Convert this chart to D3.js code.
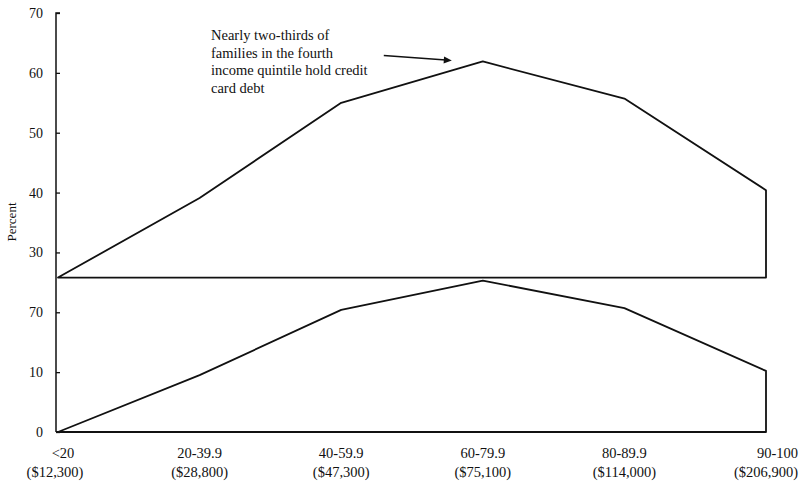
<!DOCTYPE html>
<html>
<head>
<meta charset="utf-8">
<script src="https://cdn.jsdelivr.net/npm/d3@7"></script>
<style>
  html, body { margin: 0; padding: 0; background: #fff; }
  svg { display: block; }
  text { font-family: "Liberation Serif", "DejaVu Serif", serif; fill: #111; }
</style>
</head>
<body>
<svg id="chart" width="800" height="483"></svg>
<script>
// ---- data ----
const categories = ["<20", "20-39.9", "40-59.9", "60-79.9", "80-89.9", "90-100"];
const meanIncome = ["($12,300)", "($28,800)", "($47,300)", "($75,100)", "($114,000)", "($206,900)"];
const upperValues = [25.8, 39.1, 55.0, 61.9, 55.7, 40.4];
const upperBase = 25.8;
const lowerValues = [0, 9.5, 20.4, 25.3, 20.7, 10.2];
const lowerBase = 0;
const yTicks = [0, 10, 20, 30, 40, 50, 60, 70];
const yTickLabels = ["0", "10", "70", "30", "40", "50", "60", "70"];
const yLabel = "Percent";
const noteLines = ["Nearly two-thirds of", "families in the fourth", "income quintile hold credit", "card debt"];

// ---- layout ----
const svg = d3.select("#chart");
const x = d3.scalePoint().domain(categories).range([58, 766]);
const y = d3.scaleLinear().domain([0, 70]).range([432, 13]);
const axisX0 = 56;
const W = 800;

const ink = "#111";

// y axis
const yAxis = d3.axisRight(y).tickValues(yTicks).tickSize(4).tickFormat("");
const gy = svg.append("g").attr("transform", `translate(${axisX0},0)`).call(yAxis);
gy.select(".domain").attr("stroke", ink).attr("stroke-width", 1.5).attr("d", `M4,${y(70)}H0V${y(0)}`);
gy.selectAll(".tick line").attr("stroke", ink).attr("stroke-width", 1.3);

svg.append("g").selectAll("text").data(yTicks).join("text")
  .attr("x", 43).attr("y", d => y(d) + 5)
  .attr("text-anchor", "end").style("font-size", "14px")
  .text((d, i) => yTickLabels[i]);

// y label
svg.append("text")
  .attr("transform", `translate(16,222) rotate(-90)`)
  .attr("text-anchor", "middle").style("font-size", "13px")
  .text(yLabel);

// x axis
svg.append("line")
  .attr("x1", axisX0).attr("x2", x(categories[categories.length - 1]))
  .attr("y1", y(0)).attr("y2", y(0))
  .attr("stroke", ink).attr("stroke-width", 1.8);

const last = categories.length - 1;
const xl = svg.append("g").selectAll("g").data(categories).join("g")
  .attr("transform", d => `translate(${x(d)},0)`);
function placeLabel(sel, row, dFirst) {
  sel.append("text")
    .attr("y", row === 0 ? 458 : 477)
    .attr("x", (d, i) => i === last ? (W - 2) - x(d) : (i === 0 ? dFirst : 0))
    .attr("text-anchor", (d, i) => i === last ? "end" : "middle")
    .style("font-size", "14.5px")
    .text((d, i) => row === 0 ? d : meanIncome[i]);
}
placeLabel(xl, 0, 5);
placeLabel(xl, 1, -3);

// outline shapes
function outline(values, base) {
  const pts = categories.map((c, i) => ({ c, v: values[i] }));
  return d3.area().x(d => x(d.c)).y1(d => y(d.v)).y0(() => y(base))(pts);
}
svg.append("path").attr("d", outline(upperValues, upperBase))
  .attr("fill", "none").attr("stroke", ink).attr("stroke-width", 1.8).attr("stroke-linejoin", "round");
svg.append("path").attr("d", outline(lowerValues, lowerBase))
  .attr("fill", "none").attr("stroke", ink).attr("stroke-width", 1.8).attr("stroke-linejoin", "round");

// annotation
const peakIdx = 3;
const tipX = x(categories[peakIdx]) - 31, tipY = y(upperValues[peakIdx]) - 1;
const startX = tipX - 68, startY = tipY - 5;
svg.append("line").attr("x1", startX).attr("y1", startY).attr("x2", tipX - 6).attr("y2", tipY - 0.45)
  .attr("stroke", ink).attr("stroke-width", 1.4);
const ang = Math.atan2(tipY - startY, tipX - startX);
const hl = 8, hw = 3.5;
const bx = tipX - hl * Math.cos(ang), by = tipY - hl * Math.sin(ang);
svg.append("path")
  .attr("d", `M${tipX},${tipY}L${bx - hw * Math.sin(ang)},${by + hw * Math.cos(ang)}L${bx + hw * Math.sin(ang)},${by - hw * Math.cos(ang)}Z`)
  .attr("fill", ink);

svg.append("g").selectAll("text").data(noteLines).join("text")
  .attr("x", 211).attr("y", (d, i) => 40 + i * 17.5)
  .style("font-size", "14.5px").text(d => d);
</script>
</body>
</html>
